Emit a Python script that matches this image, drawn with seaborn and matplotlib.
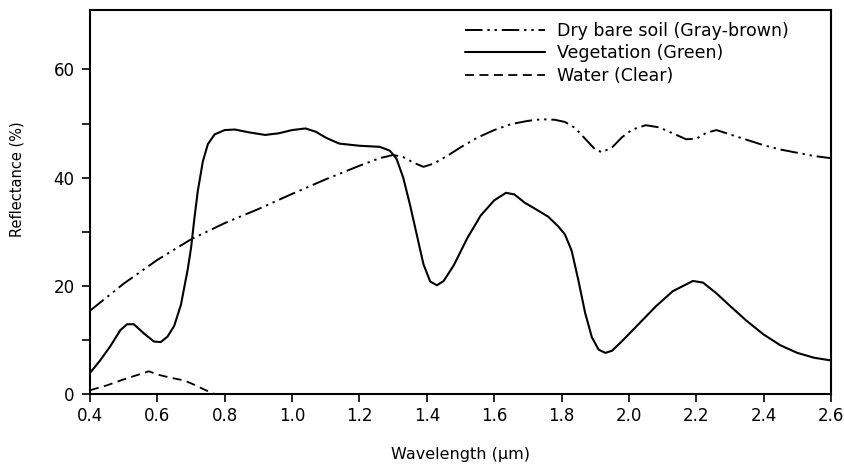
import matplotlib
matplotlib.use("Agg")
import matplotlib.pyplot as plt
import seaborn as sns
import pandas as pd

# spectral reflectance curves
veg_wl = [0.40, 0.43, 0.46, 0.49, 0.51, 0.53, 0.56, 0.59, 0.61, 0.63, 0.65, 0.67,
          0.69, 0.70, 0.71, 0.72, 0.735, 0.75, 0.77, 0.80, 0.83, 0.87, 0.92, 0.96,
          1.00, 1.04, 1.07, 1.10, 1.14, 1.20, 1.26, 1.29, 1.31, 1.33, 1.35, 1.37,
          1.39, 1.41, 1.43, 1.45, 1.48, 1.52, 1.56, 1.60, 1.635, 1.66, 1.69, 1.72,
          1.76, 1.79, 1.81, 1.83, 1.85, 1.87, 1.89, 1.91, 1.93, 1.95, 1.98, 2.03,
          2.08, 2.13, 2.19, 2.22, 2.26, 2.30, 2.35, 2.40, 2.45, 2.50, 2.55, 2.60]
veg_refl = [3.9, 6.2, 8.8, 11.8, 12.9, 12.9, 11.2, 9.7, 9.6, 10.6, 12.6, 16.5,
            23.0, 27.0, 32.5, 37.5, 43.0, 46.2, 48.0, 48.8, 48.9, 48.4, 47.9, 48.2,
            48.8, 49.1, 48.5, 47.4, 46.3, 45.9, 45.7, 45.0, 43.5, 40.0, 35.0, 29.5,
            24.0, 20.8, 20.1, 20.9, 23.8, 28.8, 33.0, 35.8, 37.2, 36.9, 35.4, 34.3,
            32.8, 31.0, 29.5, 26.5, 21.0, 15.0, 10.5, 8.2, 7.6, 8.0, 9.8, 13.0,
            16.2, 19.0, 20.9, 20.6, 18.6, 16.3, 13.5, 11.0, 9.0, 7.6, 6.7, 6.2]

soil_wl = [0.40, 0.50, 0.60, 0.70, 0.80, 0.90, 1.00, 1.10, 1.20, 1.26, 1.30, 1.33,
           1.36, 1.39, 1.42, 1.46, 1.50, 1.55, 1.60, 1.65, 1.70, 1.74, 1.78, 1.81,
           1.84, 1.87, 1.90, 1.92, 1.95, 1.98, 2.01, 2.05, 2.09, 2.13, 2.17, 2.20,
           2.23, 2.26, 2.30, 2.35, 2.40, 2.45, 2.50, 2.55, 2.60]
soil_refl = [15.4, 20.4, 24.8, 28.6, 31.6, 34.2, 37.0, 39.7, 42.2, 43.6, 44.2, 43.8,
             42.8, 42.0, 42.6, 44.0, 45.6, 47.4, 48.8, 49.9, 50.5, 50.8, 50.7, 50.3,
             49.2, 47.2, 45.2, 44.7, 45.6, 47.5, 48.9, 49.7, 49.3, 48.2, 47.1, 47.2,
             48.3, 48.8, 48.0, 47.0, 46.0, 45.2, 44.6, 44.0, 43.6]

water_wl = [0.40, 0.45, 0.50, 0.54, 0.575, 0.60, 0.64, 0.68, 0.71, 0.74, 0.77]
water_refl = [0.7, 1.6, 2.7, 3.5, 4.2, 3.6, 3.0, 2.5, 1.7, 0.8, 0.0]

x_ticks = [0.4, 0.6, 0.8, 1.0, 1.2, 1.4, 1.6, 1.8, 2.0, 2.2, 2.4, 2.6]
y_ticks = [0, 10, 20, 30, 40, 50, 60]
y_ticklabels = ["0", "", "20", "", "40", "", "60"]

sns.set_style("ticks")
plt.rcParams["font.family"] = ["DejaVu Sans"]
plt.rcParams["text.color"] = "black"
plt.rcParams["axes.labelcolor"] = "black"

fig = plt.figure(figsize=(8.44, 4.71), dpi=100)
ax = fig.add_axes([90 / 844, 1 - 394 / 471, 741 / 844, 384 / 471])

soil = pd.DataFrame({"wl": soil_wl, "r": soil_refl})
veg = pd.DataFrame({"wl": veg_wl, "r": veg_refl})
water = pd.DataFrame({"wl": water_wl, "r": water_refl})

sns.lineplot(data=soil, x="wl", y="r", ax=ax, color="black", lw=1.4,
             linestyle=(0, (9, 2.5, 1.2, 2.5, 1.2, 2.5)),
             label="Dry bare soil (Gray-brown)")
sns.lineplot(data=veg, x="wl", y="r", ax=ax, color="black", lw=1.5,
             label="Vegetation (Green)")
sns.lineplot(data=water, x="wl", y="r", ax=ax, color="black", lw=1.3,
             linestyle=(0, (5, 3)), label="Water (Clear)")

ax.set_xlim(0.4, 2.6)
ax.set_ylim(0, 71)
ax.set_xticks(x_ticks)
ax.set_xticklabels([f"{t:.1f}" for t in x_ticks])
ax.set_yticks(y_ticks)
ax.set_yticklabels(y_ticklabels)
ax.tick_params(direction="out", length=6, width=1.2, labelsize=12, colors="black")
ax.tick_params(axis="y", pad=5)
for s in ax.spines.values():
    s.set_linewidth(1.5)
    s.set_color("black")

ax.set_xlabel("Wavelength (\u03bcm)", fontsize=11.5, labelpad=16)
ax.set_ylabel("Reflectance (%)", fontsize=10.5)
ax.yaxis.set_label_coords(-0.088, 0.56)

leg = ax.legend(loc="upper left", bbox_to_anchor=(465 / 844, 1 - 22 / 471),
                bbox_transform=fig.transFigure, frameon=False, fontsize=12.5,
                handlelength=4.6, handletextpad=0.7, labelspacing=0.25,
                borderpad=0, borderaxespad=0)
for t in leg.get_texts():
    t.set_color("black")

fig.savefig("out.png", dpi=100)
